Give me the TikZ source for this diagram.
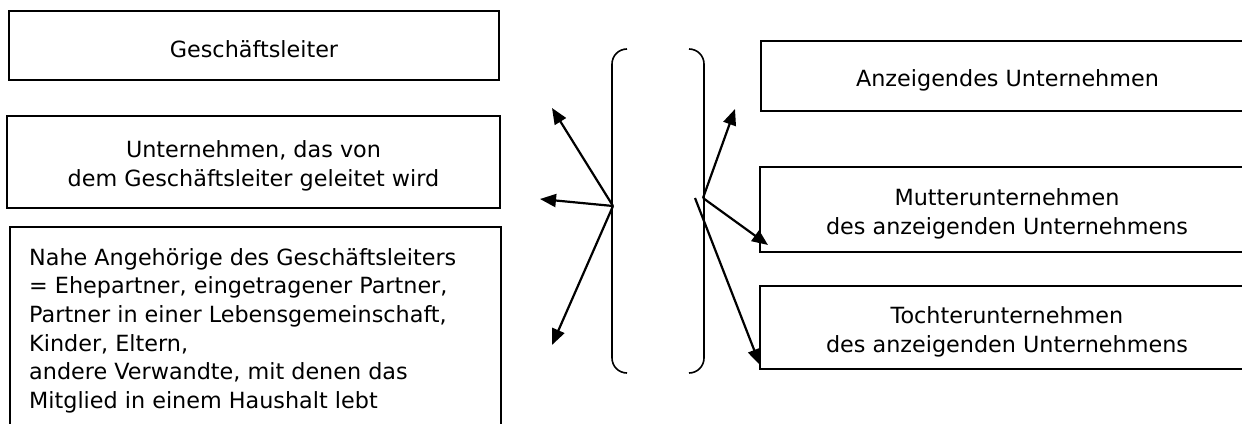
\documentclass[tikz,border=0pt]{standalone}
\usepackage{fontspec}
\setmainfont{DejaVu Sans}
\usetikzlibrary{arrows.meta}
\begin{document}
\begin{tikzpicture}[x=1pt,y=-1pt,
  box/.style={draw, line width=1.8pt, inner sep=0pt, fill=white},
  txt/.style={align=center, inner sep=0pt, font=\fontsize{22.3}{28.7}\selectfont},
  arr/.style={-{Triangle[length=16pt,width=13pt]}, line width=2.2pt},
  brk/.style={line width=1.6pt, rounded corners=15pt}]
\useasboundingbox (0,0) rectangle (1242,423);
\clip (0,0) rectangle (1242,423);
% left boxes
\node[box, minimum width=490pt, minimum height=69pt] (gl) at (254,45.5) {};
\node[txt, yshift=-4pt] (gltxt) at (gl.center) {Geschäftsleiter};
\node[box, minimum width=493pt, minimum height=92pt] (ug) at (253.5,162) {};
\node[txt, yshift=-4pt] (ugtxt) at (ug.center) {Unternehmen, das von\\dem Geschäftsleiter geleitet wird};
\node[box, anchor=north west, minimum width=491pt, minimum height=230pt] (na) at (9,226) {};
\node[txt, align=left, anchor=north west] (natxt) at (29,248) {Nahe Angehörige des Geschäftsleiters\\= Ehepartner, eingetragener Partner,\\Partner in einer Lebensgemeinschaft,\\Kinder, Eltern,\\andere Verwandte, mit denen das\\Mitglied in einem Haushalt lebt};
% right boxes
\node[box, minimum width=493pt, minimum height=70pt] (au) at (1007.5,76) {};
\node[txt, yshift=-4pt] (autxt) at (au.center) {Anzeigendes Unternehmen};
\node[box, minimum width=494pt, minimum height=85pt] (mu) at (1007,209.5) {};
\node[txt, yshift=-4pt] (mutxt) at (mu.center) {Mutterunternehmen\\des anzeigenden Unternehmens};
\node[box, minimum width=494pt, minimum height=83pt] (tu) at (1007,327.5) {};
\node[txt, yshift=-4pt] (tutxt) at (tu.center) {Tochterunternehmen\\des anzeigenden Unternehmens};
% brackets
\coordinate (lbt) at (627,49);
\coordinate (lbb) at (627,373);
\coordinate (rbt) at (689,49);
\coordinate (rbb) at (689,373);
\draw[brk] (lbt) -- (612,49) -- (612,373) -- (lbb);
\draw[brk] (rbt) -- (704,49) -- (704,373) -- (rbb);
% arrows
\coordinate (lo) at (613,206);
\coordinate (l1) at (552,108);
\coordinate (l2) at (540,199);
\coordinate (l3) at (552,345);
\draw[arr] (lo) -- (l1);
\draw[arr] (lo) -- (l2);
\draw[arr] (lo) -- (l3);
\coordinate (ro) at (703,198);
\coordinate (r1) at (735,109);
\coordinate (r2) at (768,245);
\coordinate (ro2) at (695,198);
\coordinate (r3) at (760,365);
\draw[arr] (ro) -- (r1);
\draw[arr] (ro) -- (r2);
\draw[arr] (ro2) -- (r3);
\end{tikzpicture}
\end{document}
